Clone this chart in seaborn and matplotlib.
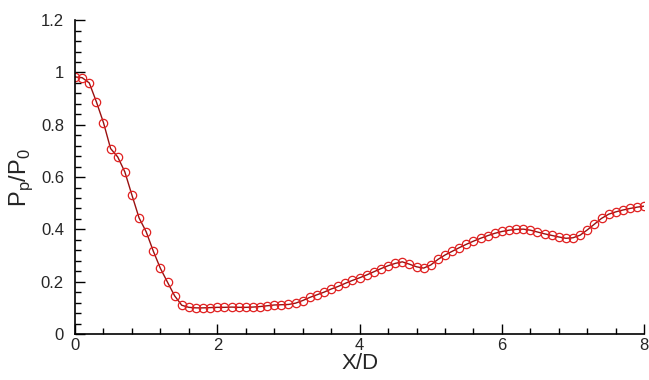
import numpy as np
import pandas as pd
import matplotlib
matplotlib.use("Agg")
import matplotlib.pyplot as plt
from matplotlib.ticker import MultipleLocator
import seaborn as sns

# X/D positions and pressure ratio
xd = [round(0.1 * i, 1) for i in range(81)]
pp = [
    0.983, 0.980, 0.960, 0.888, 0.808, 0.709, 0.677, 0.620, 0.531, 0.444,
    0.391, 0.317, 0.251, 0.198, 0.146, 0.110, 0.102, 0.100, 0.100, 0.101,
    0.102, 0.102, 0.103, 0.102, 0.102, 0.103, 0.105, 0.108, 0.111, 0.112,
    0.113, 0.118, 0.128, 0.140, 0.150, 0.160, 0.172, 0.182, 0.194, 0.205,
    0.215, 0.226, 0.238, 0.250, 0.261, 0.270, 0.276, 0.267, 0.257, 0.252,
    0.264, 0.285, 0.302, 0.316, 0.330, 0.343, 0.355, 0.366, 0.376, 0.385,
    0.392, 0.397, 0.400, 0.401, 0.397, 0.390, 0.383, 0.377, 0.371, 0.366,
    0.368, 0.378, 0.398, 0.420, 0.442, 0.458, 0.467, 0.474, 0.480, 0.485,
    0.489,
]

df = pd.DataFrame({"X/D": xd, "Pp/P0": pp})

sns.set_style("ticks")
plt.rcParams["font.family"] = ["Liberation Sans", "DejaVu Sans"]
plt.rcParams["mathtext.fontset"] = "custom"
plt.rcParams["mathtext.rm"] = "Liberation Sans"

fig = plt.figure(figsize=(6.49, 3.80), dpi=100)
ax = fig.add_axes([0.1156, 0.121, 0.877, 0.826])

sns.lineplot(
    data=df,
    x="X/D",
    y="Pp/P0",
    ax=ax,
    color="#9a1010",
    linewidth=1.0,
    marker="o",
    markersize=6,
    markerfacecolor="none",
    markeredgecolor="#e02020",
    markeredgewidth=0.9,
)

ax.set_xlim(0, 8)
ax.set_ylim(0, 1.2)
ax.xaxis.set_major_locator(MultipleLocator(2))
ax.xaxis.set_minor_locator(MultipleLocator(0.4))
ax.yaxis.set_major_locator(MultipleLocator(0.2))
ax.yaxis.set_minor_locator(MultipleLocator(0.04))
ax.xaxis.set_major_formatter(plt.FuncFormatter(lambda v, p: f"{v:g}"))
ax.yaxis.set_major_formatter(plt.FuncFormatter(lambda v, p: f"{v:g}"))

ax.tick_params(which="major", direction="in", length=7, width=1, labelsize=12, color="black")
ax.tick_params(which="minor", direction="in", length=4, width=1, color="black")
ax.tick_params(axis="y", pad=8)
ax.tick_params(axis="x", pad=3)

for s in ["top", "right"]:
    ax.spines[s].set_visible(False)
for s in ["left", "bottom"]:
    ax.spines[s].set_linewidth(1.2)
    ax.spines[s].set_color("black")

ax.set_xlabel("X/D", fontsize=16, labelpad=0)
ax.set_ylabel(r"P$_\mathregular{p}$/P$_\mathregular{0}$", fontsize=17, labelpad=4)

fig.savefig("out.png", dpi=100)
